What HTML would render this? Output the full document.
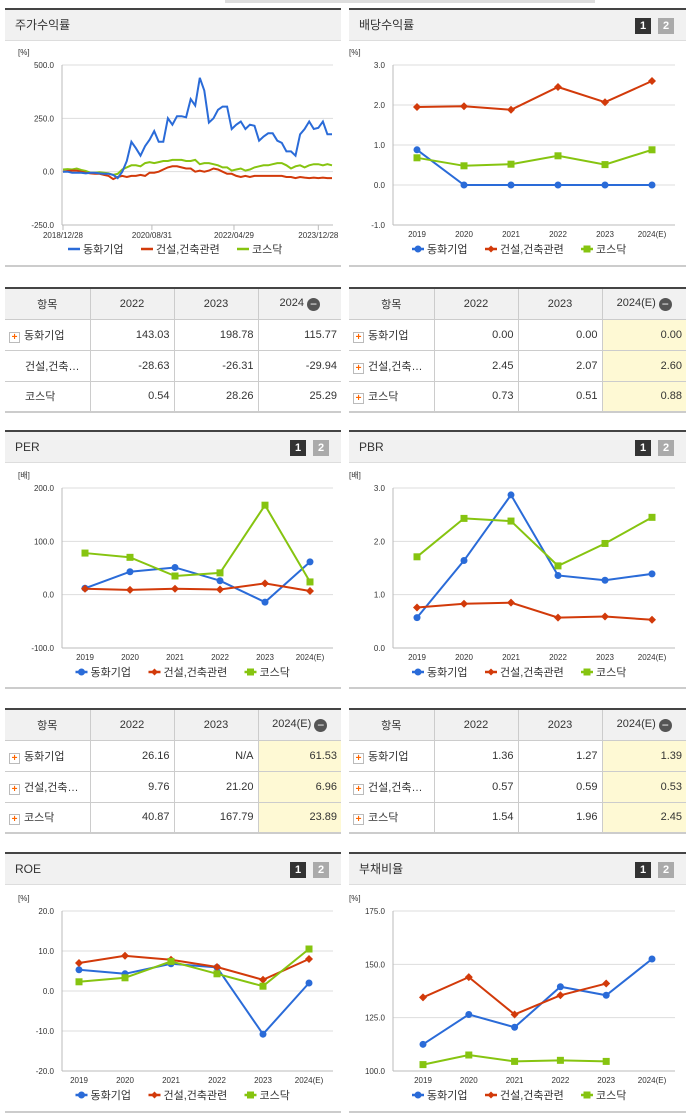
<!DOCTYPE html>
<html><head><meta charset="utf-8">
<style>
*{margin:0;padding:0;box-sizing:border-box}
body{width:691px;height:1115px;background:#fff;position:relative;overflow:hidden;font-family:"Liberation Sans","Noto Sans CJK KR",sans-serif;color:#333}
.panel{position:absolute;border-top:2px solid #444;border-bottom:2px solid #ccc}
.hdr{height:31px;background:#f1f1f1;border-bottom:1px solid #ddd;font-size:12px;line-height:30px;padding-left:10px;color:#333;position:relative}
.pg{position:absolute;top:8px;width:16px;height:16px;font-size:11px;font-weight:bold;color:#fff;text-align:center;line-height:16px}
.p1{right:35px;background:#333}.p2{right:12px;background:#aaa}
table{position:absolute;border-collapse:collapse;font-size:11px;border-top:2px solid #444;border-bottom:2px solid #ccc}
td,th{border:1px solid #ccc;height:31px;font-weight:normal}
th{background:#f1f1f1;text-align:center}
td{text-align:right;padding-right:4px}
td.n{text-align:left;padding-left:4px}
td.y{background:#fef9d4}
tr td:first-child,tr th:first-child{border-left:none}
tr td:last-child,tr th:last-child{border-right:none}
.pl{display:inline-block;width:11px;height:11px;border:1px solid #bbb;background:#fff;color:#f60;font-size:10px;line-height:9px;text-align:center;font-weight:bold;margin-right:4px;vertical-align:-1px}
.mi{display:inline-block;width:13px;height:13px;border-radius:50%;background:#555;color:#fff;line-height:12px;font-size:12px;vertical-align:-2px;margin-left:3px}
svg{position:absolute;left:0;top:0}
</style></head><body>
<div style="position:absolute;left:225px;top:0;width:370px;height:3px;background:#ddd"></div>

<div class="panel" style="left:5px;top:8px;width:336px;height:259px"><div class="hdr">주가수익률</div></div>
<div class="panel" style="left:349px;top:8px;width:337px;height:259px"><div class="hdr">배당수익률<span class="pg p1">1</span><span class="pg p2">2</span></div></div>
<div class="panel" style="left:5px;top:430px;width:336px;height:259px"><div class="hdr">PER<span class="pg p1">1</span><span class="pg p2">2</span></div></div>
<div class="panel" style="left:349px;top:430px;width:337px;height:259px"><div class="hdr">PBR<span class="pg p1">1</span><span class="pg p2">2</span></div></div>
<div class="panel" style="left:5px;top:852px;width:336px;height:261px"><div class="hdr">ROE<span class="pg p1">1</span><span class="pg p2">2</span></div></div>
<div class="panel" style="left:349px;top:852px;width:337px;height:261px"><div class="hdr">부채비율<span class="pg p1">1</span><span class="pg p2">2</span></div></div>

<table style="left:5px;top:287px;width:336px">
<tr><th style="width:85px">항목</th><th style="width:84px">2022</th><th style="width:84px">2023</th><th>2024<span class="mi">−</span></th></tr>
<tr><td class="n"><span class="pl">+</span>동화기업</td><td>143.03</td><td>198.78</td><td>115.77</td></tr>
<tr><td class="n" style="padding-left:20px">건설,건축…</td><td>-28.63</td><td>-26.31</td><td>-29.94</td></tr>
<tr><td class="n" style="padding-left:20px">코스닥</td><td>0.54</td><td>28.26</td><td>25.29</td></tr>
</table>
<table style="left:349px;top:287px;width:337px">
<tr><th style="width:85px">항목</th><th style="width:84px">2022</th><th style="width:84px">2023</th><th>2024(E)<span class="mi">−</span></th></tr>
<tr><td class="n"><span class="pl">+</span>동화기업</td><td>0.00</td><td>0.00</td><td class="y">0.00</td></tr>
<tr><td class="n"><span class="pl">+</span>건설,건축…</td><td>2.45</td><td>2.07</td><td class="y">2.60</td></tr>
<tr><td class="n"><span class="pl">+</span>코스닥</td><td>0.73</td><td>0.51</td><td class="y">0.88</td></tr>
</table>
<table style="left:5px;top:708px;width:336px">
<tr><th style="width:85px">항목</th><th style="width:84px">2022</th><th style="width:84px">2023</th><th>2024(E)<span class="mi">−</span></th></tr>
<tr><td class="n"><span class="pl">+</span>동화기업</td><td>26.16</td><td>N/A</td><td class="y">61.53</td></tr>
<tr><td class="n"><span class="pl">+</span>건설,건축…</td><td>9.76</td><td>21.20</td><td class="y">6.96</td></tr>
<tr><td class="n"><span class="pl">+</span>코스닥</td><td>40.87</td><td>167.79</td><td class="y">23.89</td></tr>
</table>
<table style="left:349px;top:708px;width:337px">
<tr><th style="width:85px">항목</th><th style="width:84px">2022</th><th style="width:84px">2023</th><th>2024(E)<span class="mi">−</span></th></tr>
<tr><td class="n"><span class="pl">+</span>동화기업</td><td>1.36</td><td>1.27</td><td class="y">1.39</td></tr>
<tr><td class="n"><span class="pl">+</span>건설,건축…</td><td>0.57</td><td>0.59</td><td class="y">0.53</td></tr>
<tr><td class="n"><span class="pl">+</span>코스닥</td><td>1.54</td><td>1.96</td><td class="y">2.45</td></tr>
</table>

<svg id="s" width="691" height="1115"></svg>
<script>
const years=["2019","2020","2021","2022","2023","2024(E)"];
const seriesNames=["동화기업","건설,건축관련","코스닥"];
const colors=["#2a6bd8","#d23a0a","#86c410"];
// stock return (%)
const retBlue=[0,0,-5,-5,-5,-8,-5,-5,-8,-10,-10,-15,-30,0,50,140,110,75,120,150,190,140,140,250,220,260,260,255,340,310,440,380,230,250,290,305,305,200,220,235,200,220,215,145,165,180,180,145,135,95,95,75,175,200,235,200,205,235,175,175];
const retRed=[0,3,5,5,0,-5,-8,-10,-10,-15,-20,-35,-25,-20,-25,-20,-20,-15,-20,-5,-5,0,10,20,25,25,20,15,15,0,5,0,5,15,10,0,-10,-10,-20,-25,-20,-25,-20,-20,-20,-20,-20,-20,-20,-25,-25,-30,-25,-28,-30,-28,-30,-28,-30,-30];
const retGreen=[10,12,10,15,8,3,-5,-5,-3,-5,-8,-15,-10,10,20,30,30,25,40,45,40,45,50,50,55,55,55,50,50,55,35,40,40,35,30,20,20,5,10,15,5,10,20,25,30,30,35,40,40,30,15,25,30,20,30,35,35,30,35,30];
const retDates=["2018/12/28","2020/08/31","2022/04/29","2023/12/28"];
const retDateIdx=[0,19.5,37.5,56];
const retTicks=[500,250,0,-250];
const divA=[0.88,0,0,0,0,0],divB=[1.95,1.97,1.88,2.45,2.07,2.60],divC=[0.68,0.48,0.52,0.73,0.51,0.88];
const perA=[12,43,51,26.16,-14,61.53],perB=[11,9,11,9.76,21.2,6.96],perC=[78,70,35,40.87,167.79,23.89];
const pbrA=[0.57,1.64,2.87,1.36,1.27,1.39],pbrB=[0.76,0.83,0.85,0.57,0.59,0.53],pbrC=[1.71,2.43,2.38,1.54,1.96,2.45];
const roeA=[5.3,4.3,6.8,5.9,-10.8,2],roeB=[7,8.8,7.8,6,2.8,8],roeC=[2.3,3.3,7.4,4.3,1.2,10.5];
const debtA=[112.5,126.5,120.5,139.5,135.5,152.5],debtB=[134.5,144,126.5,135.5,141,null],debtC=[103,107.5,104.5,105,104.5,null];
const divTicks=[3,2,1,0,-1],perTicks=[200,100,0,-100],pbrTicks=[3,2,1,0],roeTicks=[20,10,0,-10,-20],debtTicks=[175,150,125,100];

const S=document.getElementById('s'),NS='http://www.w3.org/2000/svg';
function mk(t,a,txt){const e=document.createElementNS(NS,t);for(const k in a)e.setAttribute(k,a[k]);if(txt!=null)e.textContent=txt;S.appendChild(e);return e;}
function frame(o,ticks,unit){
 const y=v=>o.y0+(o.max-v)/(o.max-o.min)*(o.y1-o.y0);
 let t=mk('text',{x:o.ax-44,y:o.y0-10,'font-size':8,fill:'#333'},unit);
 ticks.forEach(v=>{let l=mk('line',{x1:o.ax,x2:o.x2,y1:y(v),y2:y(v),stroke:'#ddd'});
  let tx=mk('text',{x:o.ax-8,y:y(v)+3,'font-size':8,fill:'#333','text-anchor':'end'},v.toFixed(1));});
 let a=mk('line',{x1:o.ax,x2:o.ax,y1:o.y0,y2:o.y1,stroke:'#bbb'});
 let b=mk('line',{x1:o.ax,x2:o.x2,y1:o.y1,y2:o.y1,stroke:'#bbb'});
 return y;
}
function legend(cx,ly,markers){
 const xs=[cx-122,cx-49,cx+47];
 seriesNames.forEach((n,i)=>{const x=xs[i];
  let l=mk('line',{x1:x,x2:x+12,y1:ly,y2:ly,stroke:colors[i],'stroke-width':2.5});
  if(markers)marker(i,x+6,ly,3.5);
  let t=mk('text',{x:x+15,y:ly+4,'font-size':11,fill:'#333'},n);});
}
function marker(i,x,y,r){let e;
 if(i==0)e=mk('circle',{cx:x,cy:y,r:r,fill:colors[0]});
 else if(i==1)e=mk('polygon',{points:`${x},${y-r} ${x+r},${y} ${x},${y+r} ${x-r},${y}`,fill:colors[1]});
 else e=mk('rect',{x:x-r,y:y-r,width:2*r,height:2*r,fill:colors[2]});
 }
function cat(o,ticks,unit,data){
 const y=frame(o,ticks,unit);
 const x=i=>o.cx0+i*(o.cx1-o.cx0)/5;
 years.forEach((yr,i)=>{let t=mk('text',{x:x(i),y:o.y1+12,'font-size':8,fill:'#333','text-anchor':'middle'},yr);});
 data.forEach((arr,si)=>{let p='';arr.forEach((v,i)=>{if(v==null)return;p+=(p?'L':'M')+x(i)+','+y(v);});
  let l=mk('path',{d:p,fill:'none',stroke:colors[si],'stroke-width':2});
  arr.forEach((v,i)=>{if(v!=null)marker(si,x(i),y(v),si==1?4:3.5);});});
 legend((o.ax+o.x2)/2,o.y1+24,true);
}
(function(){const o={ax:62,x2:333,y0:65,y1:225,max:500,min:-250};
 const y=frame(o,retTicks,'[%]');const n=retBlue.length;const x=i=>63+i*(332-63)/(n-1);
 retDates.forEach((d,k)=>{let t=mk('text',{x:x(retDateIdx[k]),y:238,'font-size':8,fill:'#333','text-anchor':'middle'},d);
  let tk=mk('line',{x1:x(retDateIdx[k]),x2:x(retDateIdx[k]),y1:225,y2:230,stroke:'#bbb'});});
 [retGreen,retRed,retBlue].forEach((arr,k)=>{const si=[2,1,0][k];let p='';arr.forEach((v,i)=>{p+=(i?'L':'M')+x(i).toFixed(1)+','+y(v).toFixed(1);});
  let l=mk('path',{d:p,fill:'none',stroke:colors[si],'stroke-width':2});});
 legend(190,249,false);
})();
cat({ax:393,x2:675,y0:65,y1:225,max:3,min:-1,cx0:417,cx1:652},divTicks,'[%]',[divA,divB,divC]);
cat({ax:62,x2:333,y0:488,y1:648,max:200,min:-100,cx0:85,cx1:310},perTicks,'[배]',[perA,perB,perC]);
cat({ax:393,x2:675,y0:488,y1:648,max:3,min:0,cx0:417,cx1:652},pbrTicks,'[배]',[pbrA,pbrB,pbrC]);
cat({ax:62,x2:333,y0:911,y1:1071,max:20,min:-20,cx0:79,cx1:309},roeTicks,'[%]',[roeA,roeB,roeC]);
cat({ax:393,x2:675,y0:911,y1:1071,max:175,min:100,cx0:423,cx1:652},debtTicks,'[%]',[debtA,debtB,debtC]);
</script>
</body></html>
